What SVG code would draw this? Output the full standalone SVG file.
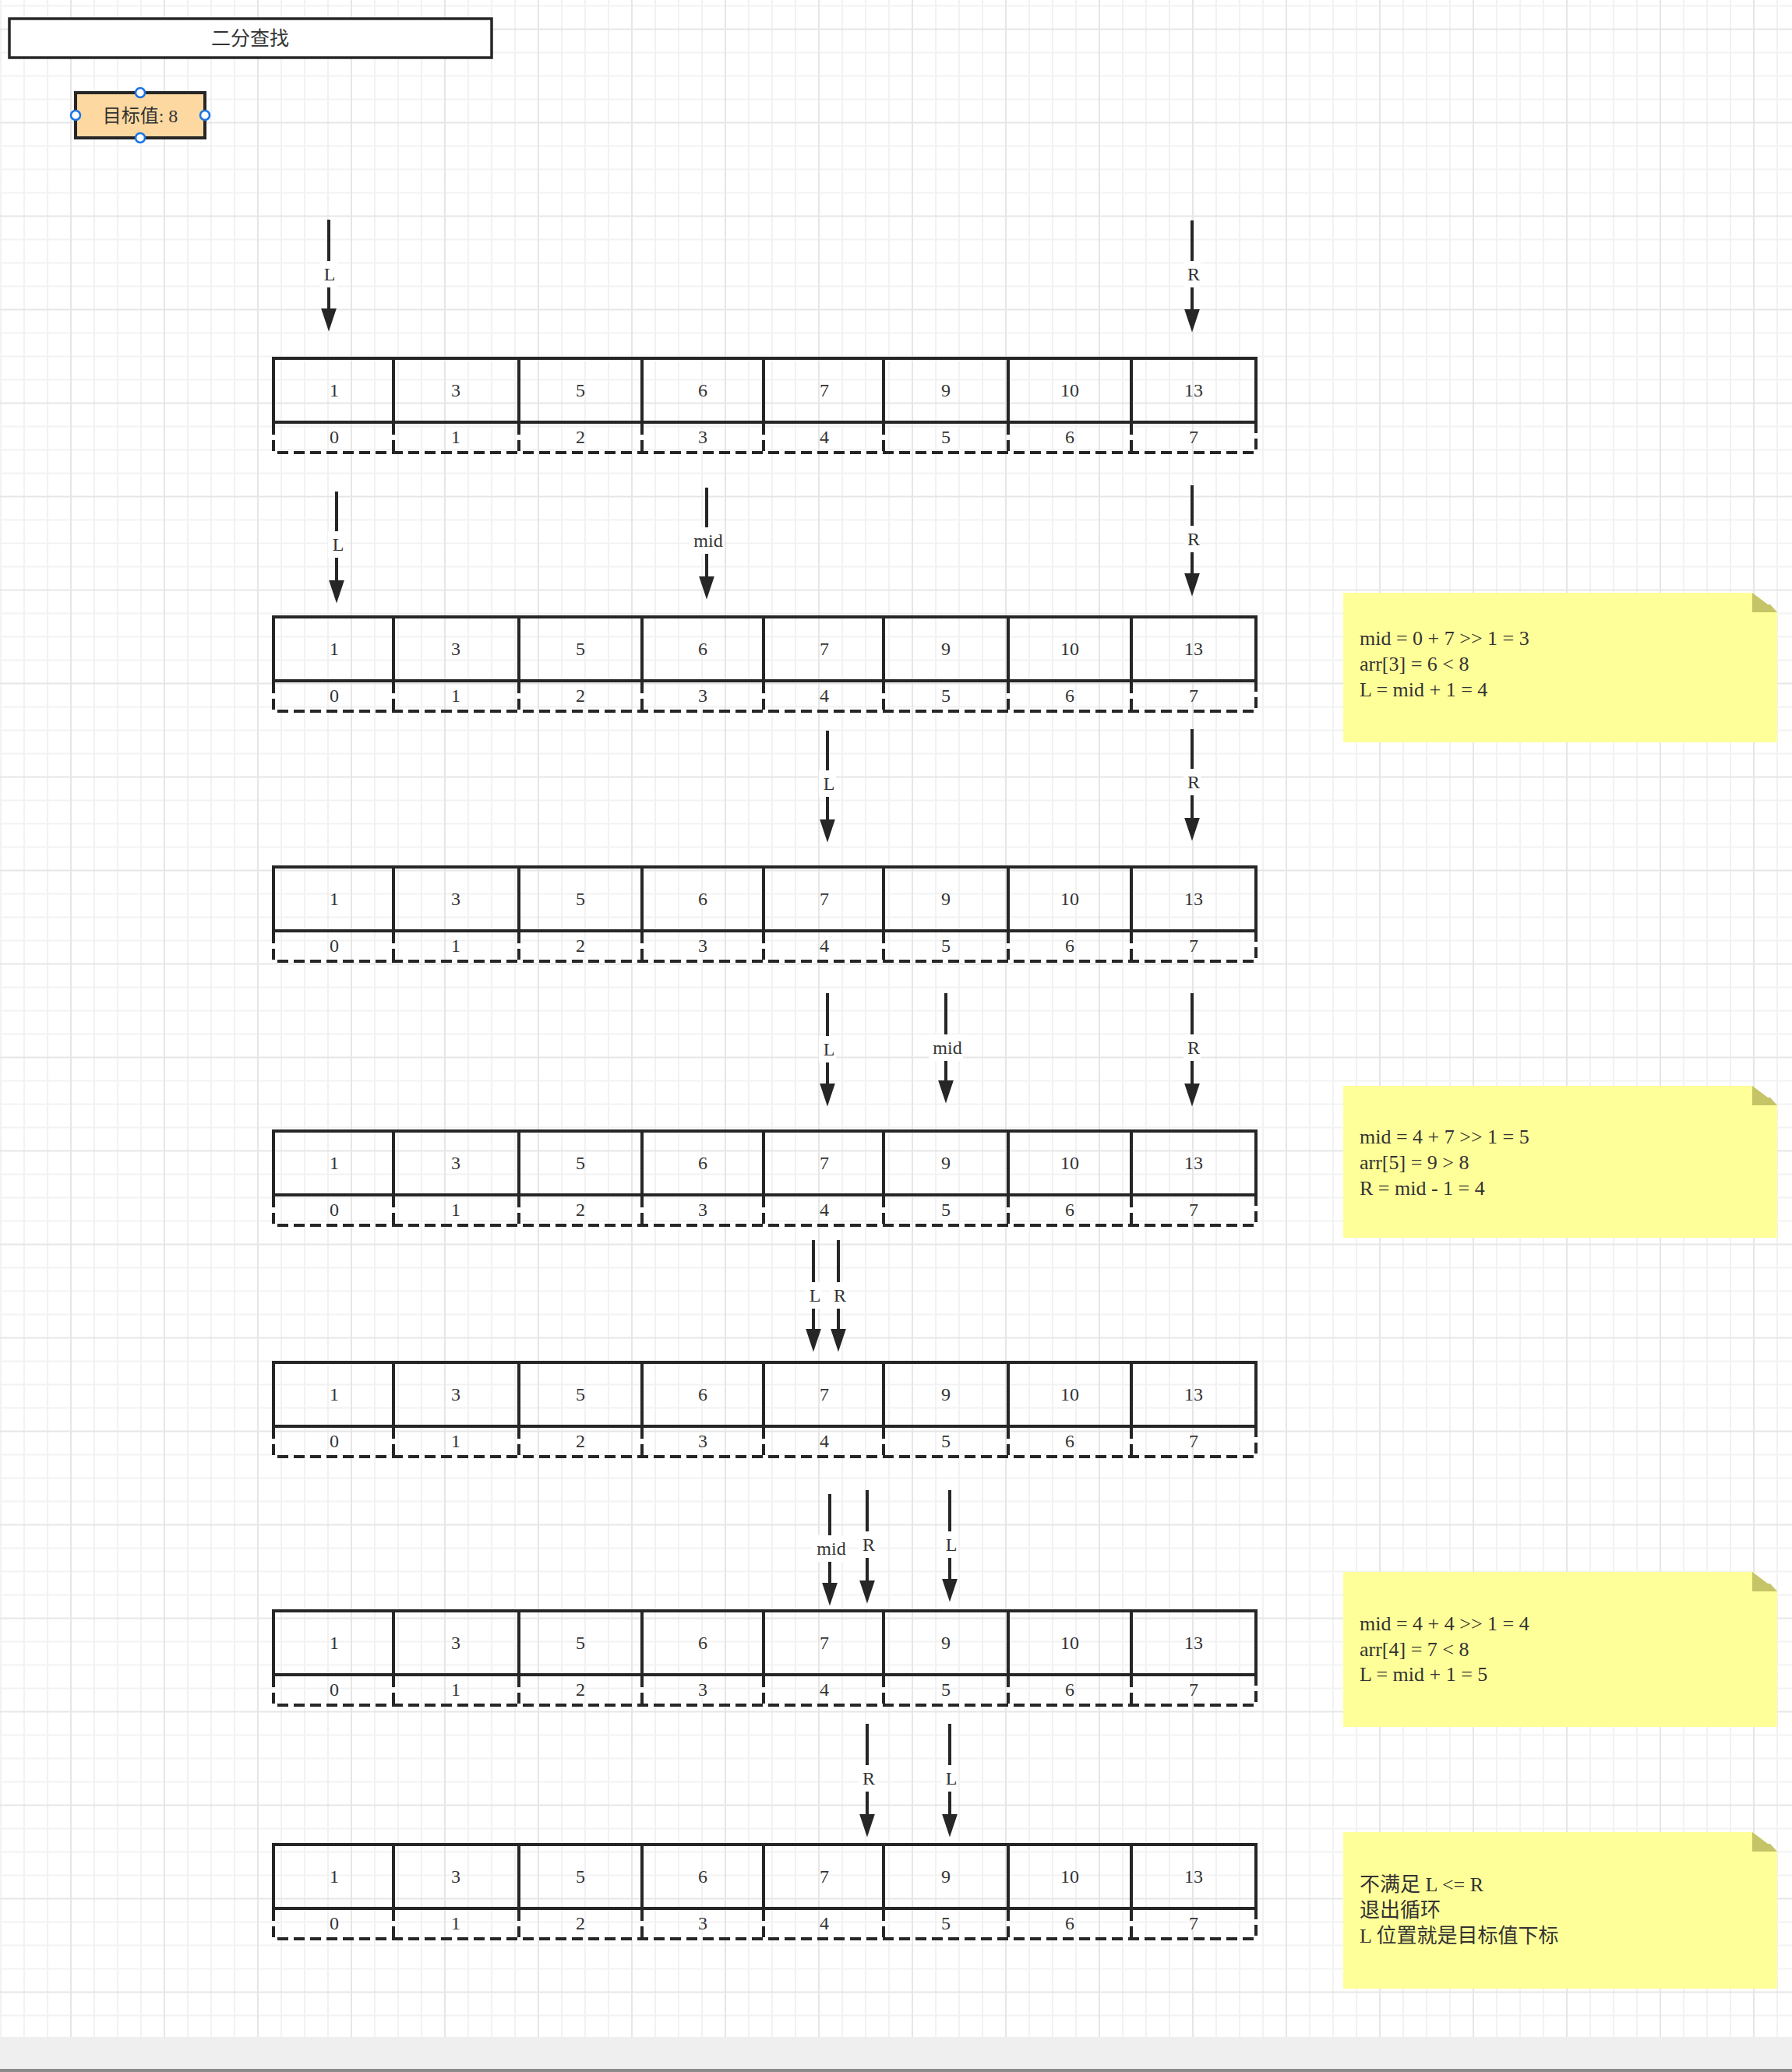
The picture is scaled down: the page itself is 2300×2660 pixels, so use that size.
<svg xmlns="http://www.w3.org/2000/svg" xmlns:xlink="http://www.w3.org/1999/xlink" width="2300" height="2660" viewBox="0 0 2300 2660">
<style>
.t{font-family:"Liberation Serif","Noto Sans CJK SC",serif;font-size:24px;fill:#333;text-anchor:middle}
.nt{font-family:"Liberation Serif","Noto Sans CJK SC",serif;font-size:26px;fill:#333}
.cell{fill:none;stroke:#262626;stroke-width:4}
.idx{fill:none;stroke:#262626;stroke-width:4;stroke-dasharray:14 7}
.ar{stroke:#262626;stroke-width:4;fill:none;marker-end:url(#ah)}
.lb{fill:#fff}
.note{fill:#ffff99}
.fold{fill:#c5c466}
.h{fill:#fff;stroke:#1a73e8;stroke-width:2.5}
</style>
<defs>
<pattern id="grid" patternUnits="userSpaceOnUse" x="90" y="36.5" width="120" height="120">
<path d="M31 0V120M61 0V120M91 0V120M0 31H120M0 61H120M0 91H120" stroke="#f2f2f2" stroke-width="2"/>
<path d="M1 0V120M0 1H120" stroke="#e6e6e6" stroke-width="2"/>
</pattern>
<marker id="ah" markerUnits="userSpaceOnUse" markerWidth="30" markerHeight="20" viewBox="0 0 27 18" refX="4" refY="9" orient="auto">
<path d="M0 0L27 9L0 18z" fill="#262626"/>
</marker>
<g id="frame">
<rect x="351" y="0" width="1261" height="82" class="cell"/>
<path class="cell" d="M505 0V82M666 0V82M824 0V82M980 0V82M1134 0V82M1294 0V82M1452 0V82"/>
<path class="idx" d="M351 84V121H1612V84M505 84V121M666 84V121M824 84V121M980 84V121M1134 84V121M1294 84V121M1452 84V121"/>
</g>
</defs>
<rect x="0" y="0" width="2300" height="2615" fill="#fff"/>
<rect x="0" y="0" width="2300" height="2615" fill="url(#grid)"/>
<rect x="0" y="2615" width="2300" height="41" fill="#efefef"/>
<rect x="0" y="2656" width="2300" height="4" fill="#8a8a8a"/>

<g id="title">
<rect x="12" y="24" width="619" height="50" fill="#fff" stroke="#262626" stroke-width="3.5"/>
<text class="t" x="321" y="58" style="font-size:25px">二分查找</text>
</g>
<g id="target">
<rect x="97" y="119" width="166" height="58" fill="#fdd8a0" stroke="#262626" stroke-width="4"/>
<text class="t" x="180" y="157">目标值: 8</text>
<circle class="h" cx="180" cy="119" r="6"/>
<circle class="h" cx="180" cy="177" r="6"/>
<circle class="h" cx="97" cy="148" r="6"/>
<circle class="h" cx="263" cy="148" r="6"/>
</g>

<g id="array1" transform="translate(0,460)">
<use xlink:href="#frame"/>
<text class="t" x="429" y="49">1</text><text class="t" x="585" y="49">3</text><text class="t" x="745" y="49">5</text><text class="t" x="902" y="49">6</text><text class="t" x="1058" y="49">7</text><text class="t" x="1214" y="49">9</text><text class="t" x="1373" y="49">10</text><text class="t" x="1532" y="49">13</text>
<text class="t" x="429" y="109">0</text><text class="t" x="585" y="109">1</text><text class="t" x="745" y="109">2</text><text class="t" x="902" y="109">3</text><text class="t" x="1058" y="109">4</text><text class="t" x="1214" y="109">5</text><text class="t" x="1373" y="109">6</text><text class="t" x="1532" y="109">7</text>
</g>
<g id="array2" transform="translate(0,792)">
<use xlink:href="#frame"/>
<text class="t" x="429" y="49">1</text><text class="t" x="585" y="49">3</text><text class="t" x="745" y="49">5</text><text class="t" x="902" y="49">6</text><text class="t" x="1058" y="49">7</text><text class="t" x="1214" y="49">9</text><text class="t" x="1373" y="49">10</text><text class="t" x="1532" y="49">13</text>
<text class="t" x="429" y="109">0</text><text class="t" x="585" y="109">1</text><text class="t" x="745" y="109">2</text><text class="t" x="902" y="109">3</text><text class="t" x="1058" y="109">4</text><text class="t" x="1214" y="109">5</text><text class="t" x="1373" y="109">6</text><text class="t" x="1532" y="109">7</text>
</g>
<g id="array3" transform="translate(0,1113)">
<use xlink:href="#frame"/>
<text class="t" x="429" y="49">1</text><text class="t" x="585" y="49">3</text><text class="t" x="745" y="49">5</text><text class="t" x="902" y="49">6</text><text class="t" x="1058" y="49">7</text><text class="t" x="1214" y="49">9</text><text class="t" x="1373" y="49">10</text><text class="t" x="1532" y="49">13</text>
<text class="t" x="429" y="109">0</text><text class="t" x="585" y="109">1</text><text class="t" x="745" y="109">2</text><text class="t" x="902" y="109">3</text><text class="t" x="1058" y="109">4</text><text class="t" x="1214" y="109">5</text><text class="t" x="1373" y="109">6</text><text class="t" x="1532" y="109">7</text>
</g>
<g id="array4" transform="translate(0,1452)">
<use xlink:href="#frame"/>
<text class="t" x="429" y="49">1</text><text class="t" x="585" y="49">3</text><text class="t" x="745" y="49">5</text><text class="t" x="902" y="49">6</text><text class="t" x="1058" y="49">7</text><text class="t" x="1214" y="49">9</text><text class="t" x="1373" y="49">10</text><text class="t" x="1532" y="49">13</text>
<text class="t" x="429" y="109">0</text><text class="t" x="585" y="109">1</text><text class="t" x="745" y="109">2</text><text class="t" x="902" y="109">3</text><text class="t" x="1058" y="109">4</text><text class="t" x="1214" y="109">5</text><text class="t" x="1373" y="109">6</text><text class="t" x="1532" y="109">7</text>
</g>
<g id="array5" transform="translate(0,1749)">
<use xlink:href="#frame"/>
<text class="t" x="429" y="49">1</text><text class="t" x="585" y="49">3</text><text class="t" x="745" y="49">5</text><text class="t" x="902" y="49">6</text><text class="t" x="1058" y="49">7</text><text class="t" x="1214" y="49">9</text><text class="t" x="1373" y="49">10</text><text class="t" x="1532" y="49">13</text>
<text class="t" x="429" y="109">0</text><text class="t" x="585" y="109">1</text><text class="t" x="745" y="109">2</text><text class="t" x="902" y="109">3</text><text class="t" x="1058" y="109">4</text><text class="t" x="1214" y="109">5</text><text class="t" x="1373" y="109">6</text><text class="t" x="1532" y="109">7</text>
</g>
<g id="array6" transform="translate(0,2068)">
<use xlink:href="#frame"/>
<text class="t" x="429" y="49">1</text><text class="t" x="585" y="49">3</text><text class="t" x="745" y="49">5</text><text class="t" x="902" y="49">6</text><text class="t" x="1058" y="49">7</text><text class="t" x="1214" y="49">9</text><text class="t" x="1373" y="49">10</text><text class="t" x="1532" y="49">13</text>
<text class="t" x="429" y="109">0</text><text class="t" x="585" y="109">1</text><text class="t" x="745" y="109">2</text><text class="t" x="902" y="109">3</text><text class="t" x="1058" y="109">4</text><text class="t" x="1214" y="109">5</text><text class="t" x="1373" y="109">6</text><text class="t" x="1532" y="109">7</text>
</g>
<g id="array7" transform="translate(0,2368)">
<use xlink:href="#frame"/>
<text class="t" x="429" y="49">1</text><text class="t" x="585" y="49">3</text><text class="t" x="745" y="49">5</text><text class="t" x="902" y="49">6</text><text class="t" x="1058" y="49">7</text><text class="t" x="1214" y="49">9</text><text class="t" x="1373" y="49">10</text><text class="t" x="1532" y="49">13</text>
<text class="t" x="429" y="109">0</text><text class="t" x="585" y="109">1</text><text class="t" x="745" y="109">2</text><text class="t" x="902" y="109">3</text><text class="t" x="1058" y="109">4</text><text class="t" x="1214" y="109">5</text><text class="t" x="1373" y="109">6</text><text class="t" x="1532" y="109">7</text>
</g>

<g id="connectors">
<path class="ar" d="M422 282V400"/><rect class="lb" x="411" y="335" width="22" height="34"/><text class="t" x="423" y="360">L</text>
<path class="ar" d="M1530 283V401"/><rect class="lb" x="1519" y="335" width="22" height="34"/><text class="t" x="1532" y="360">R</text>
<path class="ar" d="M432 631V749"/><rect class="lb" x="421" y="682" width="22" height="34"/><text class="t" x="434" y="707">L</text>
<path class="ar" d="M907 626V744"/><rect class="lb" x="885" y="677" width="44" height="34"/><text class="t" x="909" y="702">mid</text>
<path class="ar" d="M1530 623V740"/><rect class="lb" x="1519" y="675" width="22" height="34"/><text class="t" x="1532" y="700">R</text>
<path class="ar" d="M1062 938V1056"/><rect class="lb" x="1051" y="989" width="22" height="34"/><text class="t" x="1064" y="1014">L</text>
<path class="ar" d="M1530 936V1054"/><rect class="lb" x="1519" y="987" width="22" height="34"/><text class="t" x="1532" y="1012">R</text>
<path class="ar" d="M1062 1275V1395"/><rect class="lb" x="1051" y="1330" width="22" height="34"/><text class="t" x="1064" y="1355">L</text>
<path class="ar" d="M1214 1275V1391"/><rect class="lb" x="1192" y="1328" width="44" height="34"/><text class="t" x="1216" y="1353">mid</text>
<path class="ar" d="M1530 1275V1395"/><rect class="lb" x="1519" y="1328" width="22" height="34"/><text class="t" x="1532" y="1353">R</text>
<path class="ar" d="M1044 1592V1710"/><rect class="lb" x="1033" y="1646" width="22" height="34"/><text class="t" x="1046" y="1671">L</text>
<path class="ar" d="M1076 1592V1710"/><rect class="lb" x="1065" y="1646" width="22" height="34"/><text class="t" x="1078" y="1671">R</text>
<path class="ar" d="M1065 1918V2036"/><rect class="lb" x="1043" y="1971" width="44" height="34"/><text class="t" x="1067" y="1996">mid</text>
<path class="ar" d="M1113 1913V2033"/><rect class="lb" x="1102" y="1966" width="22" height="34"/><text class="t" x="1115" y="1991">R</text>
<path class="ar" d="M1219 1913V2031"/><rect class="lb" x="1208" y="1966" width="22" height="34"/><text class="t" x="1221" y="1991">L</text>
<path class="ar" d="M1113 2213V2333"/><rect class="lb" x="1102" y="2266" width="22" height="34"/><text class="t" x="1115" y="2291">R</text>
<path class="ar" d="M1219 2213V2333"/><rect class="lb" x="1208" y="2266" width="22" height="34"/><text class="t" x="1221" y="2291">L</text>
</g>

<g id="note1">
<polygon class="note" points="1724,761 2249,761 2281,786 2281,953 1724,953"/>
<polygon class="fold" points="2249,761 2269,776 2272,776 2281,786 2249,786"/>
<text class="nt" x="1745" y="828">mid = 0 + 7 &gt;&gt; 1 = 3</text>
<text class="nt" x="1745" y="861">arr[3] = 6 &lt; 8</text>
<text class="nt" x="1745" y="894">L = mid + 1 = 4</text>
</g>
<g id="note2">
<polygon class="note" points="1724,1394 2249,1394 2281,1419 2281,1589 1724,1589"/>
<polygon class="fold" points="2249,1394 2269,1409 2272,1409 2281,1419 2249,1419"/>
<text class="nt" x="1745" y="1468">mid = 4 + 7 &gt;&gt; 1 = 5</text>
<text class="nt" x="1745" y="1501">arr[5] = 9 &gt; 8</text>
<text class="nt" x="1745" y="1534">R = mid - 1 = 4</text>
</g>
<g id="note3">
<polygon class="note" points="1724,2018 2249,2018 2281,2043 2281,2217 1724,2217"/>
<polygon class="fold" points="2249,2018 2269,2033 2272,2033 2281,2043 2249,2043"/>
<text class="nt" x="1745" y="2093">mid = 4 + 4 &gt;&gt; 1 = 4</text>
<text class="nt" x="1745" y="2126">arr[4] = 7 &lt; 8</text>
<text class="nt" x="1745" y="2158">L = mid + 1 = 5</text>
</g>
<g id="note4">
<polygon class="note" points="1724,2352 2249,2352 2281,2377 2281,2553 1724,2553"/>
<polygon class="fold" points="2249,2352 2269,2367 2272,2367 2281,2377 2249,2377"/>
<text class="nt" x="1745" y="2428">不满足 L &lt;= R</text>
<text class="nt" x="1745" y="2461">退出循环</text>
<text class="nt" x="1745" y="2494">L 位置就是目标值下标</text>
</g>
</svg>
